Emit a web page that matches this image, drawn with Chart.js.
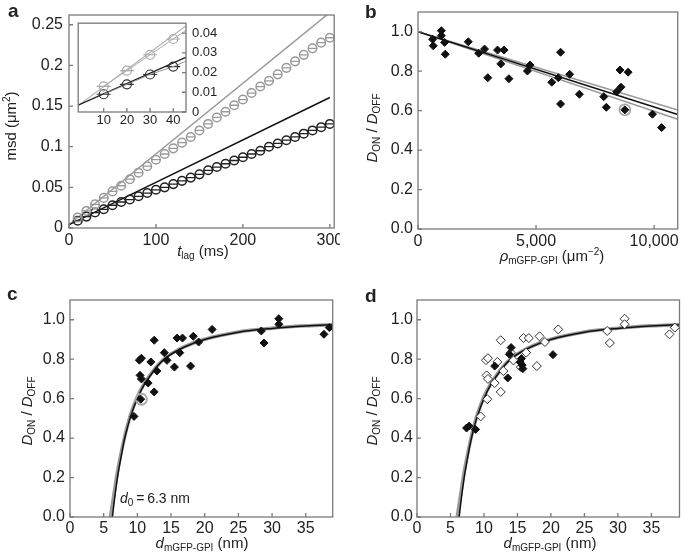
<!DOCTYPE html>
<html lang="en">
<head>
<meta charset="UTF-8">
<title>Diffusion ratio panels</title>
<script src="https://cdn.jsdelivr.net/npm/chart.js"></script>
<style>
  html, body { margin: 0; padding: 0; background: #fff; }
  #wrap { position: relative; width: 685px; height: 560px; overflow: hidden; background: #fff; }
  canvas { position: absolute; }
</style>
</head>
<body>
<div id="wrap">
  <canvas id="chartA" width="340" height="280" style="left:0;top:0"></canvas>
  <canvas id="chartB" width="345" height="280" style="left:340px;top:0"></canvas>
  <canvas id="chartC" width="340" height="280" style="left:0;top:280px"></canvas>
  <canvas id="chartD" width="345" height="280" style="left:340px;top:280px"></canvas>
  <canvas id="chartInset" width="160" height="115" style="left:70px;top:15px"></canvas>
</div>
<script>
// ---- panel a: msd vs lag time ----
const lagTimes = [10, 20, 30, 40, 50, 60, 70, 80, 90, 100, 110, 120, 130, 140, 150,
  160, 170, 180, 190, 200, 210, 220, 230, 240, 250, 260, 270, 280, 290, 300];
const msdGray = [0.013, 0.021, 0.029, 0.037, 0.045, 0.052, 0.060, 0.068, 0.076, 0.084,
  0.091, 0.098, 0.105, 0.112, 0.120, 0.128, 0.136, 0.143, 0.151, 0.158,
  0.166, 0.174, 0.181, 0.189, 0.197, 0.205, 0.213, 0.221, 0.228, 0.234];
const msdBlack = [0.009, 0.014, 0.019, 0.023, 0.028, 0.032, 0.035, 0.039, 0.043, 0.047,
  0.050, 0.054, 0.058, 0.062, 0.066, 0.071, 0.075, 0.079, 0.083, 0.087,
  0.091, 0.095, 0.100, 0.104, 0.108, 0.112, 0.116, 0.120, 0.124, 0.128];
const fitT = [-1, 300];
const fitGrayMsd = [0.0033, 0.265];
const fitBlackMsd = [0.0035, 0.1605];
const aXTicks = [0, 100, 200, 300];
const aYTicks = [0, 0.05, 0.1, 0.15, 0.2, 0.25];
const aYLabels = ['0', '0.05', '0.1', '0.15', '0.2', '0.25'];
const insetXTicks = [10, 20, 30, 40];
const insetYTicks = [0, 0.01, 0.02, 0.03, 0.04];
const insetYLabels = ['0', '0.01', '0.02', '0.03', '0.04'];

// ---- panel b: ratio vs density ----
const density = [619, 645, 990, 990, 1127, 1155, 2130, 2571, 2819, 2957, 3369, 3508, 3644,
  3851, 4635, 4746, 5666, 5943, 6038, 6038, 6423, 6836, 7868, 7977, 8419, 8555, 8597,
  8762, 8899, 9930, 10318];
const ratioB = [0.962, 0.929, 1.005, 0.980, 0.946, 0.886, 0.949, 0.891, 0.912, 0.767, 0.907,
  0.837, 0.907, 0.762, 0.801, 0.831, 0.744, 0.767, 0.896, 0.634, 0.784, 0.683, 0.671,
  0.617, 0.696, 0.806, 0.719, 0.604, 0.795, 0.582, 0.514];
const ringB = [8762, 0.604];
const bFitX = [0, 11000];
const bFitBlack = [1.0, 0.580];
const bFitUpper = [1.0, 0.603];
const bFitLower = [1.0, 0.556];
const bXTicks = [0, 5000, 10000];
const bXLabels = ['0', '5,000', '10,000'];
const ratioTicks = [0, 0.2, 0.4, 0.6, 0.8, 1.0];
const ratioLabels = ['0.0', '0.2', '0.4', '0.6', '0.8', '1.0'];

// ---- panels c, d: ratio vs distance ----
const distC = [9.5, 10.3, 10.6, 10.4, 10.6, 10.5, 11.6, 12.0, 12.5, 12.5, 12.9, 14.0, 14.4,
  15.5, 16.3, 15.9, 16.7, 17.9, 18.3, 19.1, 21.1, 28.4, 28.8, 31.0, 31.0, 37.7, 38.5];
const ratioC = [0.510, 0.795, 0.805, 0.718, 0.700, 0.597, 0.679, 0.786, 0.896, 0.634, 0.740,
  0.833, 0.794, 0.760, 0.833, 0.907, 0.907, 0.765, 0.916, 0.887, 0.951, 0.943, 0.882,
  1.005, 0.977, 0.926, 0.960];
const ringC = [10.6, 0.597];
const distD = [7.4, 7.8, 8.75, 11.6, 13.55, 13.8, 14.05, 15.4, 15.6, 15.7, 15.8, 20.3];
const ratioD = [0.451, 0.461, 0.444, 0.765, 0.705, 0.825, 0.859, 0.785, 0.803, 0.770, 0.752, 0.823];
const curveBlackX = [6.3, 6.5, 7, 7.5, 8, 8.5, 9, 10, 11, 12, 13, 14, 15, 17, 20, 25, 30, 35, 39.5];
const curveBlackY = [0, 0.06, 0.19, 0.29, 0.38, 0.45, 0.51, 0.60, 0.67, 0.72, 0.765, 0.80, 0.825,
  0.862, 0.90, 0.937, 0.956, 0.968, 0.975];
const curveGrayX = [6.0, 6.5, 7, 7.5, 8, 8.5, 9, 10, 11, 12, 13, 14, 15, 17, 20, 25, 30, 35, 39.5];
const curveGrayY = [0, 0.11, 0.22, 0.31, 0.39, 0.46, 0.52, 0.61, 0.675, 0.725, 0.768, 0.802, 0.827,
  0.864, 0.901, 0.938, 0.957, 0.969, 0.976];
const distTicks = [0, 5, 10, 15, 20, 25, 30, 35];
const distLabels = ['0', '5', '10', '15', '20', '25', '30', '35'];

const FONT = '"Liberation Sans", Arial, Helvetica, sans-serif';
Chart.defaults.font.family = FONT;
Chart.defaults.color = '#222';
Chart.defaults.animation = false;
Chart.defaults.events = [];
Chart.defaults.plugins.legend.display = false;
Chart.defaults.plugins.tooltip.enabled = false;

function pts(xs, ys) { return xs.map((x, i) => ({ x: x, y: ys[i] })); }

// text with italic / sub / superscript pieces
function drawRich(ctx, o) {
  const fs = o.size || 15;
  const fontOf = p => (p.it ? 'italic ' : '') + (o.bold ? 'bold ' : '') +
    ((p.sub || p.sup) ? Math.round(fs * 0.68) : fs) + 'px ' + FONT;
  let w = 0;
  o.parts.forEach(p => { ctx.font = fontOf(p); p.w = ctx.measureText(p.t).width; w += p.w; });
  ctx.save();
  ctx.translate(o.x, o.y);
  if (o.rot) ctx.rotate(-Math.PI / 2);
  ctx.textBaseline = o.baseline || 'middle';
  ctx.textAlign = 'left';
  ctx.fillStyle = '#222';
  let cx = o.align === 'left' ? 0 : -w / 2;
  o.parts.forEach(p => {
    ctx.font = fontOf(p);
    ctx.fillText(p.t, cx, p.sub ? fs * 0.3 : p.sup ? -fs * 0.35 : 0);
    cx += p.w;
  });
  ctx.restore();
}

// box frame, inward ticks, titles
const framePlugin = {
  id: 'frame',
  beforeDatasetsDraw(chart, args, o) {
    if (!o.fill) return;
    const a = chart.chartArea, ctx = chart.ctx;
    ctx.save();
    ctx.fillStyle = '#fff';
    ctx.fillRect(a.left, a.top, a.right - a.left, a.bottom - a.top);
    ctx.restore();
  },
  afterDraw(chart, args, o) {
    const a = chart.chartArea, ctx = chart.ctx;
    const xs = chart.scales.x, ys = chart.scales.y;
    ctx.save();
    ctx.strokeStyle = '#7a7a7a';
    ctx.lineWidth = 1.3;
    ctx.strokeRect(a.left, a.top, a.right - a.left, a.bottom - a.top);
    ctx.beginPath();
    xs.ticks.forEach(t => {
      const p = xs.getPixelForValue(t.value);
      ctx.moveTo(p, a.bottom); ctx.lineTo(p, a.bottom - 4);
    });
    ys.ticks.forEach(t => {
      const p = ys.getPixelForValue(t.value);
      if (ys.position === 'right') { ctx.moveTo(a.right, p); ctx.lineTo(a.right - 4, p); }
      else { ctx.moveTo(a.left, p); ctx.lineTo(a.left + 4, p); }
    });
    ctx.stroke();
    ctx.restore();
    (o.texts || []).forEach(t => drawRich(ctx, t));
  }
};
Chart.register(framePlugin);

function axis(pos, min, max, ticks, labels, size, pad, fontSize) {
  return {
    type: 'linear', position: pos, min: min, max: max,
    grid: { display: false, drawTicks: false }, border: { display: false },
    afterBuildTicks: s => { s.ticks = ticks.map(v => ({ value: v })); },
    afterFit: s => {
      if (pos === 'bottom') s.height = size; else s.width = size;
      s.paddingLeft = 0; s.paddingRight = 0; s.paddingTop = 0; s.paddingBottom = 0;
    },
    ticks: {
      autoSkip: false, maxRotation: 0, minRotation: 0, padding: pad,
      font: { size: fontSize || 16 }, color: '#222',
      callback: (v, i) => labels[i]
    }
  };
}

function lineSet(xs, ys, color, width, order, smooth) {
  return {
    data: pts(xs, ys), showLine: true, pointRadius: 0, borderColor: color,
    borderWidth: width, order: order, cubicInterpolationMode: smooth ? 'monotone' : 'default'
  };
}
function pointSet(xs, ys, style, r, stroke, fill, lw, order) {
  return {
    data: pts(xs, ys), showLine: false, pointStyle: style, pointRadius: r,
    pointBorderColor: stroke, pointBackgroundColor: fill, pointBorderWidth: lw, order: order
  };
}

const ratioTitle = [{ t: 'D', it: 1 }, { t: 'ON', sub: 1 }, { t: ' / ' }, { t: 'D', it: 1 }, { t: 'OFF', sub: 1 }];
const distTitle = [{ t: 'd', it: 1 }, { t: 'mGFP-GPI', sub: 1 }, { t: ' (nm)' }];

// panel a
new Chart(document.getElementById('chartA'), {
  type: 'scatter',
  data: {
    datasets: [
      pointSet(lagTimes, msdGray, 'circle', 4.3, '#9a9a9a', 'transparent', 1.5, 0),
      pointSet(lagTimes, msdGray, 'line', 4.3, '#9a9a9a', 'transparent', 1.3, 0),
      pointSet(lagTimes, msdBlack, 'circle', 4.3, '#222', 'transparent', 1.5, 0),
      pointSet(lagTimes, msdBlack, 'line', 4.3, '#222', 'transparent', 1.3, 0),
      lineSet(fitT, fitGrayMsd, '#9a9a9a', 1.5, 2),
      lineSet(fitT, fitBlackMsd, '#111', 1.5, 1)
    ]
  },
  options: {
    responsive: false,
    layout: { padding: { top: 15, right: 4, left: 0, bottom: 0 } },
    scales: {
      x: axis('bottom', 0, 305, aXTicks, aXTicks.map(String), 52, 3),
      y: axis('left', 0, 0.262, aYTicks, aYLabels, 69, 6)
    },
    plugins: {
      frame: {
        texts: [
          { parts: [{ t: 'a' }], x: 8, y: 17, size: 19, bold: 1, align: 'left', baseline: 'alphabetic' },
          { parts: [{ t: 'msd (μm' }, { t: '2', sup: 1 }, { t: ')' }], x: 12, y: 126, rot: 1, size: 15 },
          { parts: [{ t: 't', it: 1 }, { t: 'lag', sub: 1 }, { t: ' (ms)' }], x: 203, y: 252, size: 15 }
        ]
      }
    }
  }
});

// inset of panel a
new Chart(document.getElementById('chartInset'), {
  type: 'scatter',
  data: {
    datasets: [
      Object.assign(pointSet(lagTimes, msdGray, 'circle', 4.5, '#aaa', 'transparent', 1.2, 0),
        { showLine: true, borderColor: '#aaa', borderWidth: 1 }),
      pointSet(lagTimes, msdGray, 'line', 7, '#aaa', 'transparent', 1.2, 0),
      Object.assign(pointSet(lagTimes, msdBlack, 'circle', 4.5, '#333', 'transparent', 1.2, 0),
        { showLine: true, borderColor: '#999', borderWidth: 1 }),
      pointSet(lagTimes, msdBlack, 'line', 7, '#333', 'transparent', 1.2, 0),
      lineSet(fitT, fitGrayMsd, '#b5b5b5', 1.2, 2),
      lineSet(fitT, fitBlackMsd, '#222', 1.2, 1)
    ]
  },
  options: {
    responsive: false,
    layout: { padding: 0 },
    scales: {
      x: axis('bottom', -1, 45.5, insetXTicks, insetXTicks.map(String), 18, 1, 13),
      y: axis('right', 0, 0.045, insetYTicks, insetYLabels, 44, 6, 13)
    },
    plugins: { frame: { fill: 1 } }
  }
});

// panel b
new Chart(document.getElementById('chartB'), {
  type: 'scatter',
  data: {
    datasets: [
      pointSet(density, ratioB, 'rectRot', 4, '#111', '#111', 1, 0),
      pointSet([ringB[0]], [ringB[1]], 'circle', 5.5, '#a8a8a8', 'transparent', 1.8, 1),
      lineSet(bFitX, bFitUpper, '#9a9a9a', 1.5, 3),
      lineSet(bFitX, bFitLower, '#9a9a9a', 1.5, 3),
      lineSet(bFitX, bFitBlack, '#111', 1.5, 2)
    ]
  },
  options: {
    responsive: false,
    layout: { padding: { top: 12, right: 2, left: 0, bottom: 0 } },
    scales: {
      x: axis('bottom', 0, 11000, bXTicks, bXLabels, 51, 3),
      y: axis('left', 0, 1.1, ratioTicks, ratioLabels, 78, 5)
    },
    plugins: {
      frame: {
        texts: [
          { parts: [{ t: 'b' }], x: 25, y: 18, size: 19, bold: 1, align: 'left', baseline: 'alphabetic' },
          { parts: ratioTitle, x: 33, y: 128, rot: 1, size: 15 },
          { parts: [{ t: 'ρ', it: 1 }, { t: 'mGFP-GPI', sub: 1 }, { t: ' (μm' }, { t: '−2', sup: 1 }, { t: ')' }],
            x: 212, y: 257, size: 15 }
        ]
      }
    }
  }
});

// panel c
new Chart(document.getElementById('chartC'), {
  type: 'scatter',
  data: {
    datasets: [
      pointSet(distC, ratioC, 'rectRot', 4, '#111', '#111', 1, 0),
      pointSet([ringC[0]], [ringC[1]], 'circle', 5.5, '#a8a8a8', 'transparent', 1.8, 1),
      lineSet(curveBlackX, curveBlackY, '#111', 1.5, 2, true),
      lineSet(curveGrayX, curveGrayY, '#9a9a9a', 3.5, 3, true)
    ]
  },
  options: {
    responsive: false,
    layout: { padding: { top: 20, right: 5, left: 0, bottom: 0 } },
    scales: {
      x: axis('bottom', 0, 39, distTicks, distLabels, 43, 2),
      y: axis('left', 0, 1.1, ratioTicks, ratioLabels, 70, 5)
    },
    plugins: {
      frame: {
        texts: [
          { parts: [{ t: 'c' }], x: 7, y: 20, size: 19, bold: 1, align: 'left', baseline: 'alphabetic' },
          { parts: ratioTitle, x: 28, y: 131, rot: 1, size: 15 },
          { parts: distTitle, x: 202, y: 264, size: 15 },
          { parts: [{ t: 'd', it: 1 }, { t: '0', sub: 1 }, { t: '\u2009=\u20096.3 nm' }], x: 120, y: 219, size: 14, align: 'left' }
        ]
      }
    }
  }
});

// panel d
new Chart(document.getElementById('chartD'), {
  type: 'scatter',
  data: {
    datasets: [
      pointSet(distD, ratioD, 'rectRot', 4, '#111', '#111', 1, 0),
      pointSet(distC, ratioC, 'rectRot', 4.5, '#333', '#fff', 1, 1),
      lineSet(curveBlackX, curveBlackY, '#111', 1.5, 2, true),
      lineSet(curveGrayX, curveGrayY, '#9a9a9a', 3.5, 3, true)
    ]
  },
  options: {
    responsive: false,
    layout: { padding: { top: 20, right: 2, left: 0, bottom: 0 } },
    scales: {
      x: axis('bottom', 0, 39.2, distTicks, distLabels, 43, 2),
      y: axis('left', 0, 1.1, ratioTicks, ratioLabels, 77, 4)
    },
    plugins: {
      frame: {
        texts: [
          { parts: [{ t: 'd' }], x: 25, y: 22, size: 19, bold: 1, align: 'left', baseline: 'alphabetic' },
          { parts: ratioTitle, x: 33, y: 131, rot: 1, size: 15 },
          { parts: distTitle, x: 210, y: 264, size: 15 }
        ]
      }
    }
  }
});
</script>
</body>
</html>
